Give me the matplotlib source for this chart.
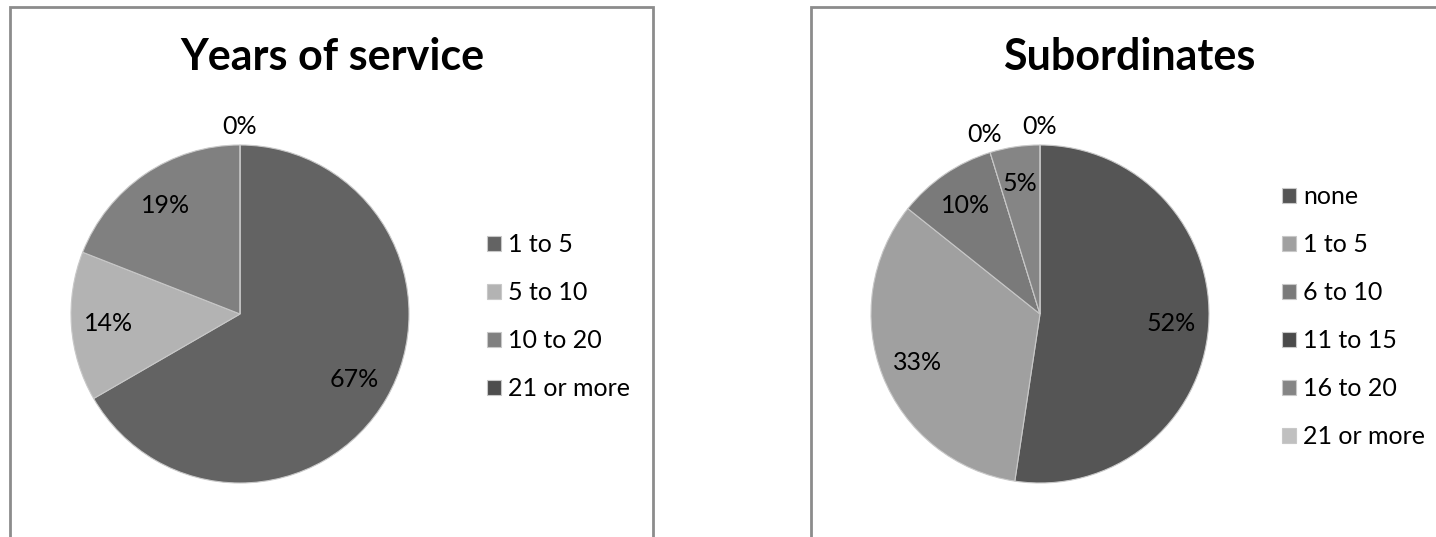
import matplotlib
matplotlib.use('Agg')
import matplotlib.pyplot as plt
from matplotlib.patches import Rectangle
import numpy as np

# --- Data (counts out of 21 respondents) ---
service_labels = ["1 to 5", "5 to 10", "10 to 20", "21 or more"]
service_counts = [14, 3, 4, 0]
service_colors = ["#636363", "#b3b3b3", "#808080", "#4d4d4d"]

sub_labels = ["none", "1 to 5", "6 to 10", "11 to 15", "16 to 20", "21 or more"]
sub_counts = [11, 7, 2, 0, 1, 0]
sub_colors = ["#555555", "#a0a0a0", "#7a7a7a", "#4a4a4a", "#858585", "#c0c0c0"]

W, H = 1436, 537
FONT = "Lato"
plt.rcParams['font.family'] = [FONT, 'DejaVu Sans']
TEXT_SIZE = 18


def fx(x):
    return x / W


def fy(y):
    return 1 - y / H


def draw_panel(fig, left, right, title, title_x):
    # chart-area border (runs off the bottom / right of the image)
    fig.patches.append(Rectangle((fx(left), fy(H + 20)), fx(right - left), fy(7) - fy(H + 20),
                                 transform=fig.transFigure, fill=False,
                                 edgecolor="#8c8c8c", linewidth=2.0))
    fig.text(fx(title_x), fy(57), title, ha='center', va='center',
             fontsize=31, fontweight='bold', color='black')


def draw_pie(fig, cx, cy, r, counts, colors, labels, legend_x):
    ax = fig.add_axes([fx(cx - r), fy(cy + r), fx(2 * r), fy(cy - r) - fy(cy + r)])
    wedges, _ = ax.pie(counts, colors=colors, startangle=90, counterclock=False,
                       wedgeprops=dict(edgecolor="#c8c8c8", linewidth=0.8))
    ax.set_xlim(-1, 1)
    ax.set_ylim(-1, 1)
    ax.set_aspect('auto')
    ax.axis('off')

    total = sum(counts)
    for w, c in zip(wedges, counts):
        mid = np.deg2rad((w.theta1 + w.theta2) / 2)
        dist = 0.78 if c > 0 else 1.11
        ax.text(dist * np.cos(mid), dist * np.sin(mid), f"{100 * c / total:.0f}%",
                ha='center', va='center', fontsize=TEXT_SIZE, color='black', clip_on=False)

    ax.legend(wedges, labels, loc='center left',
              bbox_to_anchor=(fx(legend_x), fy(cy + 3)), bbox_transform=fig.transFigure,
              frameon=False, fontsize=TEXT_SIZE, borderpad=0, borderaxespad=0,
              handlelength=0.55, handleheight=0.55, handletextpad=0.3,
              labelspacing=1.0)
    return ax


fig = plt.figure(figsize=(W / 100, H / 100), dpi=100)

draw_panel(fig, 9.5, 653, "Years of service", 332)
draw_panel(fig, 810.5, 1460, "Subordinates", 1129)

draw_pie(fig, 240, 314, 169, service_counts, service_colors, service_labels, 487)
draw_pie(fig, 1040, 314, 169, sub_counts, sub_colors, sub_labels, 1282)

fig.savefig("out.png", dpi=100)
